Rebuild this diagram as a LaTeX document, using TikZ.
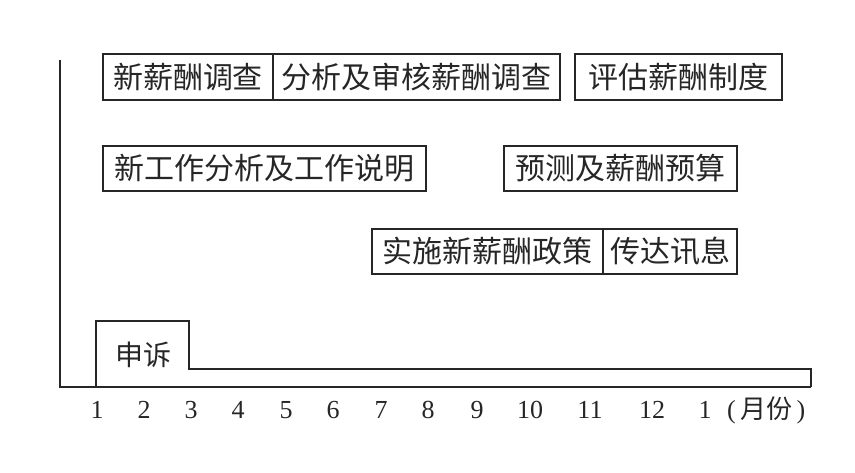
\documentclass[tikz,border=0pt]{standalone}
\usepackage{fontspec}
\setmainfont{Liberation Serif}
\newfontfamily\cjk{Noto Sans CJK SC}
\begin{document}
\begin{tikzpicture}[x=1pt,y=-1pt,
  ln/.style={draw=black!85,line width=1.1pt},
  box/.style={ln,rectangle,inner sep=0pt,text=black!85,font=\cjk\fontsize{30}{30}\selectfont},
  num/.style={inner sep=0pt,font=\fontsize{26}{26}\selectfont,text=black!85}]
\useasboundingbox (0,0) rectangle (855,472);
% axes
\coordinate (top) at (60,60);
\coordinate (org) at (60,387);
\coordinate (end) at (811,387);
\draw[ln] (top) -- (org) -- (end);
% step shape
\coordinate (s0) at (96,387);
\coordinate (s1) at (96,321);
\coordinate (s2) at (189,321);
\coordinate (s3) at (189,369);
\coordinate (s4) at (811,369);
\draw[ln] (s0) -- (s1) -- (s2) -- (s3) -- (s4) -- (end);
\node[inner sep=0pt,font=\cjk\fontsize{28}{28}\selectfont,text=black!85] (ss) at (143,355) {申诉};
% boxes
\node[box,minimum width=170pt,minimum height=46pt] (b1) at (188,77) {新薪酬调查};
\node[box,minimum width=287pt,minimum height=46pt] (b2) at (416.5,77) {分析及审核薪酬调查};
\node[box,minimum width=207pt,minimum height=46pt] (b3) at (678.5,77) {评估薪酬制度};
\node[box,minimum width=323pt,minimum height=45pt] (b4) at (264.5,168.5) {新工作分析及工作说明};
\node[box,minimum width=233pt,minimum height=45pt] (b5) at (620.5,168.5) {预测及薪酬预算};
\node[box,minimum width=231pt,minimum height=45pt] (b6) at (487.5,251.5) {实施新薪酬政策};
\node[box,minimum width=134pt,minimum height=45pt] (b7) at (670,251.5) {传达讯息};
% month labels
\node[num] (m1) at (97,410) {1};
\node[num] (m2) at (144,410) {2};
\node[num] (m3) at (191,410) {3};
\node[num] (m4) at (238,410) {4};
\node[num] (m5) at (286,410) {5};
\node[num] (m6) at (333,410) {6};
\node[num] (m7) at (381,410) {7};
\node[num] (m8) at (428,410) {8};
\node[num] (m9) at (477,410) {9};
\node[num] (m10) at (530,410) {10};
\node[num] (m11) at (590,410) {11};
\node[num] (m12) at (652,410) {12};
\node[num] (m13) at (705,410) {1};
\node[num,anchor=west] (unit) at (727,410) {(\,\cjk\fontsize{26}{26}\selectfont 月份\rmfamily\,)};
\end{tikzpicture}
\end{document}
